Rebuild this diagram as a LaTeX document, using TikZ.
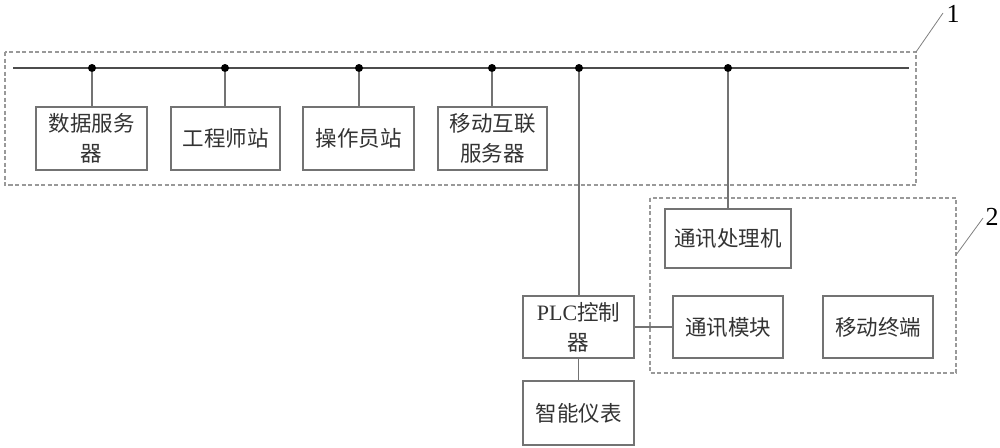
\documentclass[tikz,border=0pt]{standalone}
\usepackage{fontspec}
\setmainfont{Liberation Serif}
\newfontfamily\cjk{Noto Sans CJK SC}
\begin{document}
\begin{tikzpicture}[x=1pt,y=-1pt,
  box/.style={draw=black!55,line width=1.2pt,fill=white,inner sep=0pt,align=center,
     font=\cjk\fontsize{21.5}{30}\selectfont,text=black!80},
  dbox/.style={draw=black!40,line width=1.1pt,dash pattern=on 4pt off 2.5pt},
  conn/.style={draw=black!55,line width=1.2pt},
  busline/.style={draw=black!70,line width=1.3pt},
  junct/.style={circle,fill=black,inner sep=0pt,minimum size=8pt},
  lead/.style={draw=black!50,line width=0.8pt},
  num/.style={font=\fontsize{26}{26}\selectfont,inner sep=0pt}]
\useasboundingbox (0,0) rectangle (1000,447);
% group frames
\draw[dbox] (5,52) rectangle (916,185);
\draw[dbox] (650,198) rectangle (956,373);
% bus
\coordinate (busl) at (13,68);
\coordinate (busr) at (909,68);
\draw[busline] (busl) -- (busr);
\node[junct] (j1) at (92,68) {};
\node[junct] (j2) at (225,68) {};
\node[junct] (j3) at (359,68) {};
\node[junct] (j4) at (492,68) {};
\node[junct] (j5) at (579,68) {};
\node[junct] (j6) at (728,68) {};
% boxes
\node[box,minimum width=111pt,minimum height=63pt] (ds) at (91.5,138.5) {数据服务\\器};
\node[box,minimum width=109pt,minimum height=63pt] (gc) at (225.5,138.5) {工程师站};
\node[box,minimum width=111pt,minimum height=63pt] (cz) at (358.5,138.5) {操作员站};
\node[box,minimum width=109pt,minimum height=63pt] (yd) at (492.5,138.5) {移动互联\\服务器};
\node[box,minimum width=126pt,minimum height=59pt] (txc) at (728,238.5) {通讯处理机};
\node[box,minimum width=111pt,minimum height=62pt] (plc) at (578.5,327) {{\rmfamily\fontsize{22}{30}\selectfont PLC}控制\\器};
\node[box,minimum width=110pt,minimum height=62pt] (txm) at (728,327) {通讯模块};
\node[box,minimum width=110pt,minimum height=62pt] (ydz) at (878,327) {移动终端};
\node[box,minimum width=111pt,minimum height=64pt] (zn) at (578.5,413) {智能仪表};
% connectors
\draw[conn] (j1) -- (j1 |- ds.north);
\draw[conn] (j2) -- (j2 |- gc.north);
\draw[conn] (j3) -- (j3 |- cz.north);
\draw[conn] (j4) -- (j4 |- yd.north);
\draw[conn] (j5) -- (j5 |- plc.north);
\draw[conn] (j6) -- (txc.north);
\draw[conn] (plc.east) -- (txm.west);
\draw[conn] (plc.south) -- (zn.north);
% labels
\coordinate (c1) at (916,52);
\coordinate (c2) at (956,255);
\node[num] (n1) at (953,14) {1};
\node[num] (n2) at (992,217) {2};
\draw[lead] (c1) -- (943,13);
\draw[lead] (c2) -- (983,218);
\end{tikzpicture}
\end{document}
